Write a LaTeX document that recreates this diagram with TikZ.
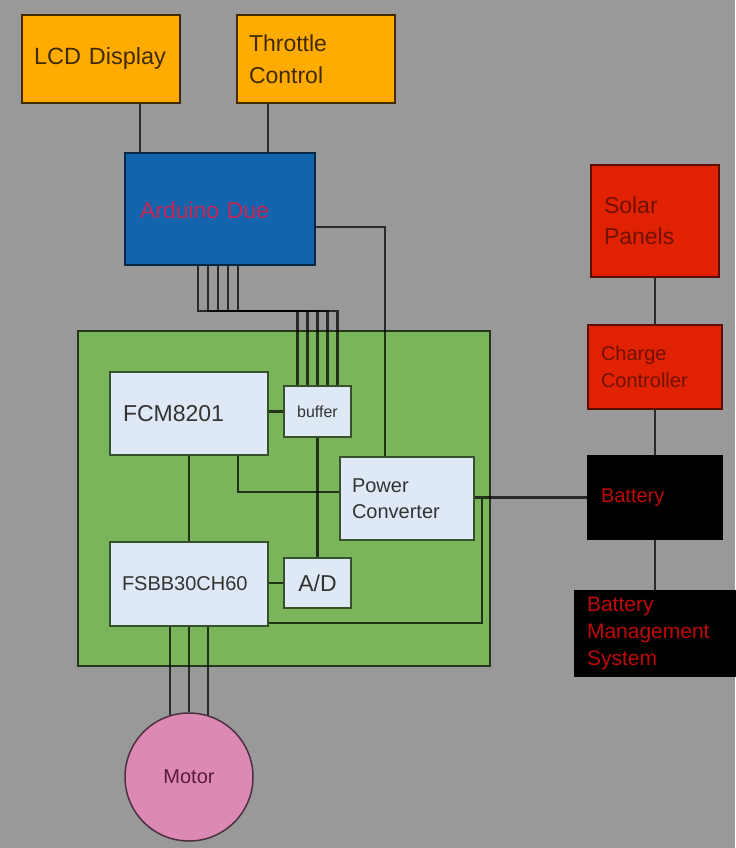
\documentclass[tikz,border=0pt]{standalone}
\usepackage{fontspec}
\setmainfont{Liberation Sans}
\usetikzlibrary{positioning}
\definecolor{bg}{RGB}{153,153,153}
\definecolor{amber}{RGB}{255,171,0}
\definecolor{due}{RGB}{18,100,172}
\definecolor{board}{RGB}{122,181,92}
\definecolor{chip}{RGB}{222,233,245}
\definecolor{solar}{RGB}{224,34,2}
\definecolor{pink}{RGB}{220,138,180}

\begin{document}
\begin{tikzpicture}[x=1pt,y=-1pt,box/.style={draw,rectangle,line width=1.5pt,align=left,inner ysep=0pt},wire/.style={draw=black,draw opacity=.72,line width=2.2pt},fs/.style 2 args={font=\fontsize{#1}{#2}\selectfont}]
\fill[bg] (0,0) rectangle (735,848);
\node[box,fill=amber,draw=black!75!amber,text=black!75!amber,fs={23.5}{29},text width=134pt,inner xsep=12pt,minimum height=88pt] (lcd) at (101,59) {\strut LCD Display};
\node[box,fill=amber,draw=black!75!amber,text=black!75!amber,fs={23}{32},text width=134pt,inner xsep=12pt,minimum height=88pt] (thr) at (316,59) {Throttle\\Control};
\node[box,fill=due,draw=black!60!due,text={rgb,255:red,200;green,38;blue,82},fs={23}{29},text width=160pt,inner xsep=15pt,minimum height=112pt] (ard) at (220,209) {\rule{0pt}{20pt}Arduino Due};

% board
\node[box,fill=board,draw=black!70!board,minimum width=412pt,minimum height=335pt] (pcb) at (284,498.5) {};
\node[box,fill=chip,draw=black!55!board,text=black!80,fs={23}{29},text width=132pt,inner xsep=13pt,minimum height=83pt] (fcm) at (189,413.5) {FCM8201};
\node[box,fill=chip,draw=black!55!board,text=black!80,fs={16}{20},align=center,inner sep=0pt,minimum width=67pt,minimum height=51pt] (buf) at (317.5,411.5) {buffer};
\node[box,fill=chip,draw=black!55!board,text=black!80,fs={20}{26},text width=110pt,inner xsep=12pt,minimum height=83pt] (pc) at (407,498.5) {Power\\Converter};
\node[box,fill=chip,draw=black!55!board,text=black!80,fs={20}{26},text width=134pt,inner xsep=12pt,minimum height=84pt] (fsbb) at (189,584) {FSBB30CH60};
\node[box,fill=chip,draw=black!55!board,text=black!80,fs={23}{29},align=center,inner sep=0pt,minimum width=67pt,minimum height=50pt] (ad) at (317.5,583) {A/D};
\node[draw=black!65!pink,fill=pink,circle,line width=1.5pt,minimum size=128pt,inner sep=0pt,text={rgb,255:red,90;green,25;blue,64},fs={20}{24}] (motor) at (189,777) {Motor};

% power side
\node[box,fill=solar,draw=black!60!solar,text=black!50!solar,fs={23}{31},text width=102pt,inner xsep=13pt,minimum height=112pt] (sol) at (655,221) {Solar\\Panels};
\node[box,fill=solar,draw=black!60!solar,text=black!50!solar,fs={20}{27},text width=108pt,inner xsep=13pt,minimum height=84pt,below=46.5pt of sol] (cc) {Charge\\Controller};
\node[box,fill=black,draw=black,text={rgb,255:red,190;green,10;blue,10},fs={20}{27},text width=108pt,inner xsep=13pt,minimum height=84pt,below=45pt of cc] (bat) {Battery};
\node[box,fill=black,draw=black,text={rgb,255:red,190;green,10;blue,10},fs={21}{27},text width=136pt,inner xsep=12pt,minimum height=85pt,below=50pt of bat] (bms) {Battery\\Management\\System};
\coordinate (tap) at (482,499);

\foreach \i/\j in {fcm/fsbb,buf/ad,sol/cc,cc/bat,bat/bms} {
  \draw[wire] (\i) -- (\j);
}
\draw[wire] ([xshift=39pt]lcd.south) -- ([xshift=-80pt]ard.north);
\draw[wire] ([xshift=-48pt]thr.south) -- ([xshift=48pt]ard.north);
\draw[wire] ([yshift=-18pt]ard.east) -| ([xshift=-22pt]pc.north);
\foreach \a/\b in {-22/-20,-12/-10,-2/0,8/10,18/20} {
  \draw[wire] ([xshift=\a pt]ard.south) -- ++(0,45) -| ([xshift=\b pt]buf.north);
}
\draw[wire] (fcm.east |- buf.west) -- (buf.west);
\draw[wire] ([xshift=49pt]fcm.south) |- ([yshift=6.5pt]pc.west);
\draw[wire] (fsbb.east |- ad.west) -- (ad.west);
\draw[wire] (pc.east |- bat.west) -- (bat.west);
\draw[wire] ([yshift=4pt]fsbb.south east) -| (tap);
\foreach \a in {73,90,107} {
  \draw[wire] (fsbb.south -| motor.\a) -- (motor.\a);
}
\end{tikzpicture}
\end{document}
